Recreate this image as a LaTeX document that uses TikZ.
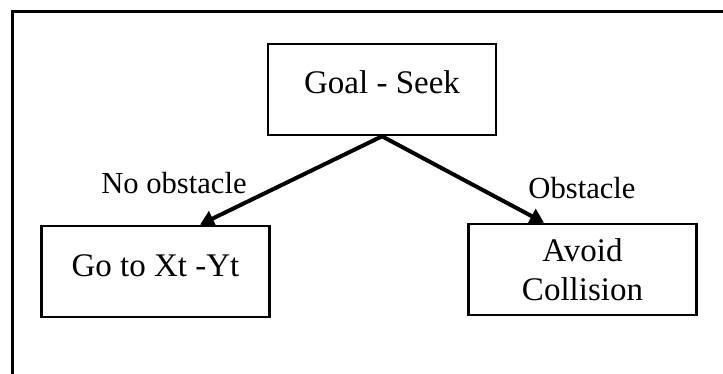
\documentclass[tikz,border=0pt]{standalone}
\usepackage{fontspec}
\setmainfont{Liberation Serif}
\usetikzlibrary{arrows.meta,positioning}

\tikzset{
  box/.style={draw,line width=1.3pt,minimum width=114pt,minimum height=45.5pt,inner sep=0pt,
    font=\fontsize{16.5}{19.5}\selectfont},
  raised/.style={text height=11pt,text depth=6.5pt},
  lbl/.style={font=\fontsize{15.3}{18}\selectfont},
  branch/.style={-{Triangle[length=7pt,width=8pt]},line width=2pt}
}

\begin{document}
\begin{tikzpicture}[x=0.5pt,y=-0.5pt]
      \useasboundingbox (0,0) rectangle (723,374);
      \clip (0,0) rectangle (723,374);

      % Frame
      \draw[line width=1.5pt] (12.5,390) -- (12.5,12) -- (740,12);

      % Behaviours
      \node[box,raised] (goal) at (382,89.5) {Goal - Seek};
      \node[box,raised] (goto) at (155.5,271.5) {Go to Xt -Yt};
      \node[box,align=center] (avoid) at (582.5,269.5) {Avoid\\Collision};

      % Branches
      \draw[branch] (goal.south) -- ([xshift=22.25pt]goto.north);
      \draw[branch] (goal.south) -- ([xshift=-19.25pt]avoid.north);

      % Labels
      \node[lbl] (noobs) at (174,183) {No obstacle};
      \node[lbl] (obs) at (582,188) {Obstacle};
    \end{tikzpicture}
\end{document}
